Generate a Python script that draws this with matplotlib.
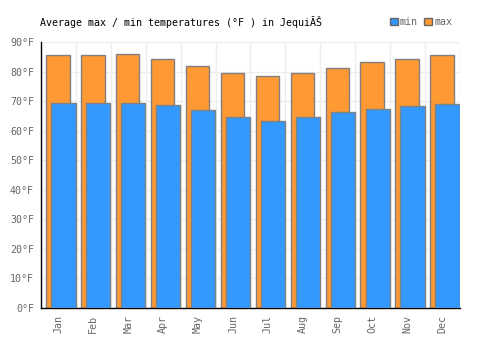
import matplotlib
matplotlib.use('Agg')
import matplotlib.pyplot as plt
from matplotlib.patches import Patch
import numpy as np

months = ['Jan', 'Feb', 'Mar', 'Apr', 'May', 'Jun',
          'Jul', 'Aug', 'Sep', 'Oct', 'Nov', 'Dec']
temp_max = [85.8, 85.6, 85.9, 84.2, 81.9, 79.5, 78.5, 79.5, 81.3, 83.3, 84.3, 85.7]
temp_min = [69.5, 69.5, 69.5, 68.7, 67.0, 64.6, 63.3, 64.6, 66.3, 67.3, 68.3, 69.1]
y_ticks = [0, 10, 20, 30, 40, 50, 60, 70, 80, 90]

plt.rcParams['font.family'] = ['DejaVu Sans Mono']

fig = plt.figure(figsize=(5, 3.5), dpi=100)
ax = fig.add_axes([0.082, 0.12, 0.838, 0.759])

x = np.arange(len(months))
ax.bar(x - 0.35, temp_max, width=0.67, align='edge', color='#ff9933',
       edgecolor='#808080', linewidth=1.0, zorder=2)
ax.bar(x - 0.205, temp_min, width=0.695, align='edge', color='#3399ff',
       edgecolor='#808080', linewidth=1.0, zorder=3)

ax.set_xlim(-0.5, 11.5)
ax.set_ylim(0, 90)
ax.set_yticks(y_ticks)
ax.set_yticklabels(['{}°F'.format(v) for v in y_ticks])
ax.set_xticks(x)
ax.set_xticklabels(months, rotation=90)
ax.set_xticks(np.arange(-0.5, 12, 1), minor=True)
ax.tick_params(axis='both', which='both', length=0, labelsize=7.2,
               labelcolor='#666666', pad=5)

ax.grid(False)
ax.grid(which='minor', axis='x', color='#eeeeee', linewidth=1, zorder=0)
ax.grid(which='major', axis='y', color='#eeeeee', linewidth=1, zorder=0)
ax.set_axisbelow(True)
for s in ['top', 'right']:
    ax.spines[s].set_visible(False)
for s in ['left', 'bottom']:
    ax.spines[s].set_color('black')
    ax.spines[s].set_linewidth(1.0)

fig.text(0.08, 0.937, 'Average max / min temperatures (°F ) in JequiĂŠ',
         fontsize=7.2, color='black', va='center', ha='left')

handles = [Patch(facecolor='#3399ff', edgecolor='#666666', label='min'),
           Patch(facecolor='#ff9933', edgecolor='#666666', label='max')]
leg = fig.legend(handles=handles, loc='center right', bbox_to_anchor=(0.905, 0.937),
                 ncol=2, frameon=False, fontsize=7.2, handlelength=0.8,
                 handleheight=0.8, handletextpad=0.25, columnspacing=0.6,
                 borderpad=0, borderaxespad=0)
for t in leg.get_texts():
    t.set_color('#666666')

plt.savefig('out.png', dpi=100)
